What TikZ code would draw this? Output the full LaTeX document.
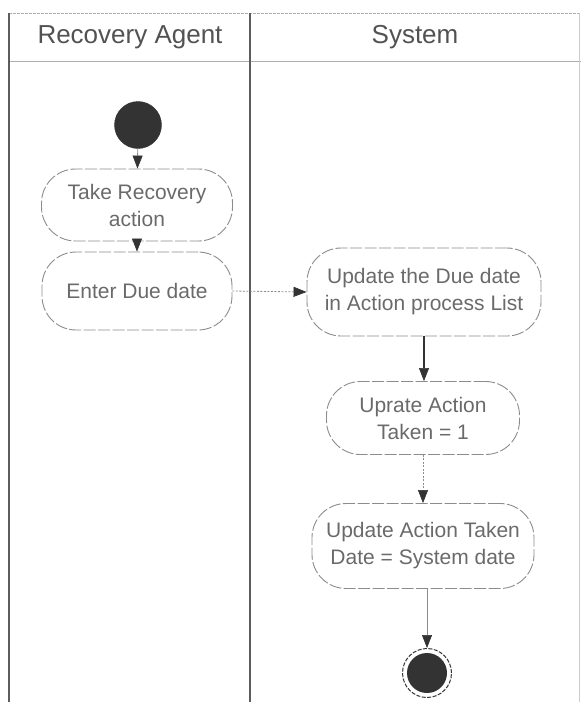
\documentclass[tikz,border=0pt]{standalone}
\usepackage{fontspec}
\setmainfont{Liberation Sans}
\usetikzlibrary{arrows.meta}
\definecolor{ink}{HTML}{333333}
\definecolor{txt}{HTML}{6A6A6A}
\definecolor{rim}{HTML}{8C8C8C}
\begin{document}
\begin{tikzpicture}[x=1pt,y=-1pt,
  lane/.style={draw=ink!80,line width=1.3pt},
  laneh/.style={draw=rim!70,line width=0.9pt},
  act/.style={draw=rim,line width=0.9pt,dash pattern=on 12pt off 2.5pt,
    rounded corners=34pt,inner sep=0pt,align=center,text=txt,
    font=\fontsize{21}{27}\selectfont},
  head/.style={text=ink!85,font=\fontsize{26}{30}\selectfont},
  tip/.style={-{Triangle[length=13pt,width=10pt,color=ink,fill=ink,line width=0.6pt]}},
  flow/.style={draw=rim,line width=0.8pt,tip},
  flowbold/.style={draw=ink,line width=1.6pt,tip},
  flowdot/.style={flow,dash pattern=on 2pt off 1.5pt}]
\useasboundingbox (0,0) rectangle (581,702);

% swimlane frame
\draw[laneh,dash pattern=on 3pt off 1pt] (9,13) -- (581,13);
\draw[laneh] (9,61) -- (581,61);
\draw[lane] (9,13) -- (9,702);
\draw[lane] (250,13) -- (250,702);
\draw[laneh,draw=rim!45] (579,13) -- (579,702);

% lane titles
\node[head] (hAgent) at (130,37) {Recovery Agent};
\node[head] (hSystem) at (415,37) {System};

% start and end
\node[circle,fill=ink,draw=ink,minimum size=47pt,inner sep=0pt] (start) at (138,125) {};
\node[circle,draw=ink,line width=1pt,dash pattern=on 4pt off 1.5pt,minimum size=49pt,inner sep=0pt] (stop) at (427,673) {};
\node[circle,fill=ink,minimum size=40pt,inner sep=0pt] (stopin) at (427,673) {};

% activities
\node[act,minimum width=191pt,minimum height=72pt] (take) at (137,205) {Take Recovery\\action};
\node[act,minimum width=190pt,minimum height=78pt] (enter) at (137,291) {Enter Due date};
\node[act,minimum width=234pt,minimum height=88pt] (upd) at (424,292) {Update the Due date\\in Action process List};
\node[act,minimum width=193pt,minimum height=73pt] (taken) at (423,418) {Uprate Action\\Taken = 1};
\node[act,minimum width=222pt,minimum height=85pt] (tdate) at (423,546) {Update Action Taken\\Date = System date};

% control flow
\draw[flow] (start) -- (take);
\draw[flowbold] (take) -- (enter);
\draw[flowdot] (enter.east) -- (upd.west);
\draw[flowbold] (upd.south) -- (upd.south |- taken.north);
\draw[flowdot] (taken.south) -- (taken.south |- tdate.north);
\draw[flow] (tdate.south -| stop.north) -- (stop.north);
\end{tikzpicture}
\end{document}
